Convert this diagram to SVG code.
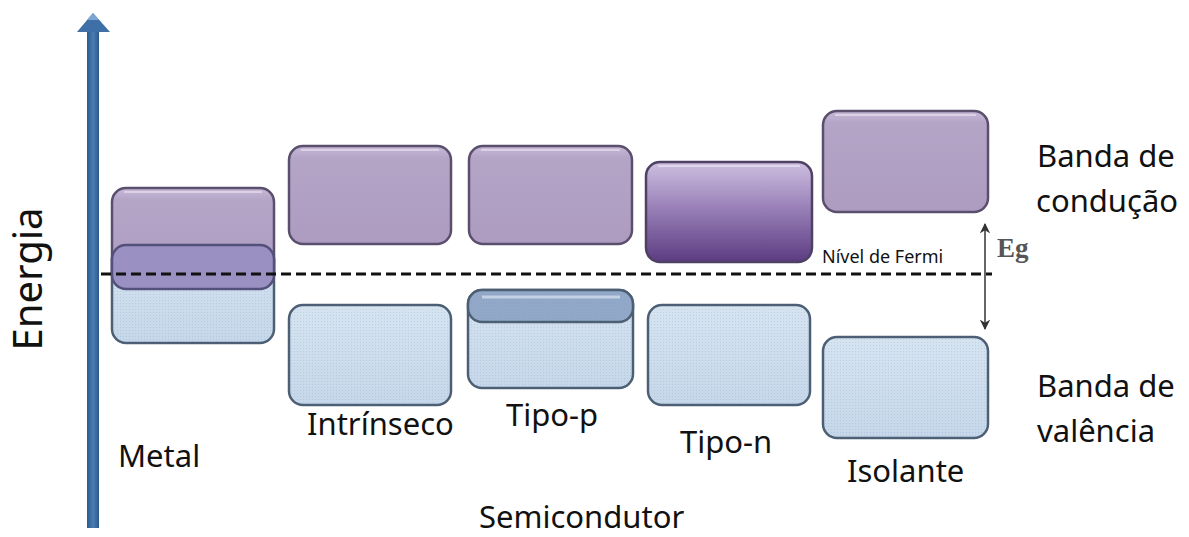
<svg xmlns="http://www.w3.org/2000/svg" width="1189" height="537" viewBox="0 0 1189 537">
  <defs>
    <style>
      .lbl { font-family: "Noto Sans", "Open Sans", sans-serif; font-size: 31px; fill: #111; }
      .cond { fill: url(#condFill); stroke: #5a4f6c; stroke-width: 2.5; }
      .val { fill: url(#valFill); stroke: #4d5f75; stroke-width: 2.5; }
      .dots { fill: url(#dotPat); stroke: none; }
      .gloss { fill: none; stroke: #ffffff; stroke-opacity: 0.55; stroke-width: 1.5; }
    </style>
    <linearGradient id="condFill" x1="0" y1="0" x2="0" y2="1">
      <stop offset="0" stop-color="#c8b9d8"/>
      <stop offset="0.12" stop-color="#b4a4c6"/>
      <stop offset="1" stop-color="#ad9cc0"/>
    </linearGradient>
    <linearGradient id="condDark" x1="0" y1="0" x2="0" y2="1">
      <stop offset="0" stop-color="#cdbfe0"/>
      <stop offset="0.45" stop-color="#9a82b8"/>
      <stop offset="1" stop-color="#5c3b82"/>
    </linearGradient>
    <linearGradient id="valFill" x1="0" y1="0" x2="0" y2="1">
      <stop offset="0" stop-color="#d6e4f1"/>
      <stop offset="1" stop-color="#c5d7ea"/>
    </linearGradient>
    <linearGradient id="axisFill" x1="0" y1="0" x2="1" y2="0">
      <stop offset="0" stop-color="#2c5a8c"/>
      <stop offset="0.5" stop-color="#4a7db5"/>
      <stop offset="1" stop-color="#2c5a8c"/>
    </linearGradient>
    <pattern id="dotPat" width="3" height="3" patternUnits="userSpaceOnUse">
      <rect x="0" y="0" width="1" height="1" fill="#7f95b0" fill-opacity="0.25"/>
    </pattern>
    <marker id="egHead" viewBox="0 0 10 10" refX="9" refY="5" markerWidth="7" markerHeight="7" orient="auto-start-reverse">
      <path d="M0,0 L10,5 L0,10 L3,5 Z" fill="#333"/>
    </marker>
  </defs>

  <rect width="1189" height="537" fill="#ffffff"/>

  <!-- energy axis -->
  <g id="axis">
    <rect x="87" y="30" width="12" height="498" fill="url(#axisFill)"/>
    <polygon points="93,13 110,32 77,32" fill="#3e6fa6"/>
    <polygon points="93,13 99,20 87,20" fill="#7ea6d2"/>
    <text class="lbl" transform="translate(42,279) rotate(-90)" text-anchor="middle" style="font-size:40px">Energia</text>
  </g>

  <!-- metal: overlapping bands -->
  <g id="metal">
    <rect class="val" x="112" y="245" width="162" height="98" rx="14"/>
    <rect class="dots" x="114" y="247" width="158" height="94" rx="12"/>
    <rect class="cond" x="112" y="188" width="162" height="100" rx="14"/>
    <path class="gloss" d="M124,192 H262"/>
    <rect x="112" y="245" width="162" height="44" rx="14" fill="#9b90c2" stroke="#54507c" stroke-width="2.5"/>
    <text class="lbl" x="118" y="467">Metal</text>
  </g>

  <!-- intrinsic semiconductor -->
  <g id="intrinseco">
    <rect class="cond" x="289" y="146" width="162" height="98" rx="14"/>
    <path class="gloss" d="M301,150 H439"/>
    <rect class="val" x="289" y="305" width="162" height="100" rx="14"/>
    <rect class="dots" x="291" y="307" width="158" height="96" rx="12"/>
    <text class="lbl" x="307" y="435">Intrínseco</text>
  </g>

  <!-- p-type semiconductor -->
  <g id="tipo-p">
    <rect class="cond" x="469" y="146" width="163" height="98" rx="14"/>
    <path class="gloss" d="M481,150 H620"/>
    <rect class="val" x="468" y="290" width="165" height="98" rx="14"/>
    <rect class="dots" x="470" y="292" width="161" height="94" rx="12"/>
    <rect x="468" y="290" width="165" height="32" rx="14" fill="#91a8c8" stroke="#4d5f75" stroke-width="2.5"/>
    <rect class="dots" x="470" y="292" width="161" height="28" rx="12"/>
    <path d="M482,297 H620" stroke="#d8e4f0" stroke-opacity="0.7" stroke-width="3" fill="none"/>
    <text class="lbl" x="506" y="426">Tipo-p</text>
  </g>

  <!-- n-type semiconductor -->
  <g id="tipo-n">
    <rect x="646" y="162" width="166" height="100" rx="14" fill="url(#condDark)" stroke="#4f4163" stroke-width="2.5"/>
    <path class="gloss" d="M658,166 H800"/>
    <rect class="val" x="648" y="305" width="162" height="100" rx="14"/>
    <rect class="dots" x="650" y="307" width="158" height="96" rx="12"/>
    <text class="lbl" x="680" y="453">Tipo-n</text>
  </g>

  <!-- insulator -->
  <g id="isolante">
    <rect class="cond" x="823" y="111" width="165" height="101" rx="14"/>
    <path class="gloss" d="M835,115 H976"/>
    <rect class="val" x="823" y="337" width="165" height="101" rx="14"/>
    <rect class="dots" x="825" y="339" width="161" height="97" rx="12"/>
    <text class="lbl" x="847" y="482">Isolante</text>
  </g>

  <!-- Fermi level and band gap -->
  <g id="connectors">
    <line x1="101" y1="274" x2="992" y2="274" stroke="#111" stroke-width="3" stroke-dasharray="10 5"/>
    <line x1="985" y1="224" x2="985" y2="329" stroke="#333" stroke-width="1.5" marker-start="url(#egHead)" marker-end="url(#egHead)"/>
  </g>

  <g id="labels">
    <text x="822" y="263" font-family="Noto Sans, Open Sans, sans-serif" font-size="18" fill="#111">Nível de Fermi</text>
    <text x="997" y="257" font-family="Liberation Serif, DejaVu Serif, serif" font-size="27" font-weight="bold" fill="#555">Eg</text>
    <text class="lbl" x="1037" y="167">Banda de</text>
    <text class="lbl" x="1036" y="212">condução</text>
    <text class="lbl" x="1037" y="397">Banda de</text>
    <text class="lbl" x="1037" y="442">valência</text>
    <text class="lbl" x="479" y="528">Semicondutor</text>
  </g>
</svg>
